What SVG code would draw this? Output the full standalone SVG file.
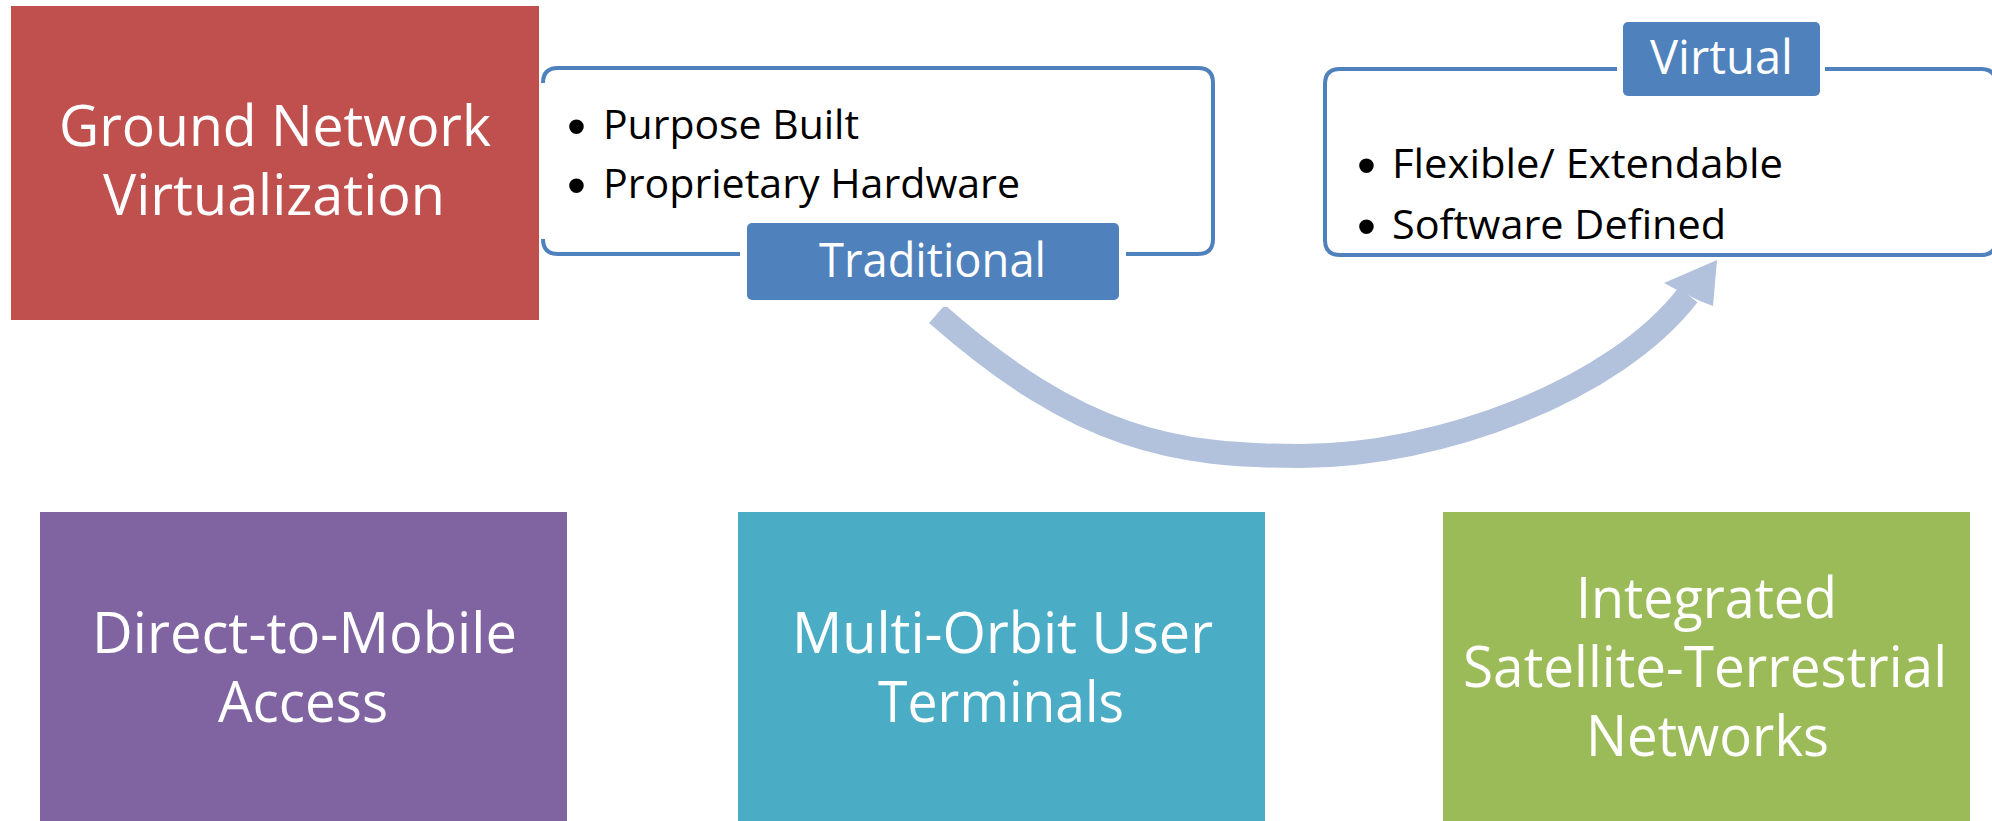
<svg xmlns="http://www.w3.org/2000/svg" width="1992" height="821" viewBox="0 0 1992 821">
  <style>
    .big { font-family: "Open Sans", "Liberation Sans", sans-serif; font-size: 56px; fill: #FFFFFF; }
    .label { font-family: "Open Sans", "Liberation Sans", sans-serif; font-size: 47px; fill: #FFFFFF; }
    .item { font-family: "Open Sans", "Liberation Sans", sans-serif; font-size: 40px; fill: #000000; }
    .bullet { font-family: "Liberation Sans", "DejaVu Sans", sans-serif; font-size: 54px; }
    .frame { fill: none; stroke: #4F81BD; stroke-width: 4; }
    .tag { fill: #4F81BD; }
    .gap { fill: #FFFFFF; }
  </style>
  <rect x="0" y="0" width="1992" height="821" fill="#FFFFFF"/>

  <g id="connectors">
    <path d="M937,314 C1080,440 1175,456 1300,456 C1440,456 1615,390 1688,295" fill="none" stroke="#B2C1DC" stroke-width="24" stroke-linecap="butt"/>
    <polygon points="1717,260 1664,283 1677,290 1700,301 1713,306" fill="#B2C1DC"/>
  </g>

  <g id="ground-network-virtualization">
    <rect x="11" y="6" width="528" height="314" fill="#C0504D"/>
    <text class="big" x="59" y="146" textLength="432" lengthAdjust="spacingAndGlyphs">Ground Network</text>
    <text class="big" x="103" y="215" textLength="342" lengthAdjust="spacingAndGlyphs">Virtualization</text>
  </g>

  <g id="traditional">
    <path class="frame" d="M543,83 Q543,68 558,68 H1198 Q1213,68 1213,83 V239 Q1213,254 1198,254 H558 Q543,254 543,239"/>
    <text class="item" x="567" y="145"><tspan class="bullet">•</tspan><tspan x="603" y="139" textLength="256" lengthAdjust="spacingAndGlyphs">Purpose Built</tspan></text>
    <text class="item" x="567" y="204"><tspan class="bullet">•</tspan><tspan x="603" y="198" textLength="417" lengthAdjust="spacingAndGlyphs">Proprietary Hardware</tspan></text>
    <rect class="gap" x="740" y="216" width="386" height="91"/>
    <rect class="tag" x="747" y="223" width="372" height="77" rx="5"/>
    <text class="label" x="819" y="277" textLength="227" lengthAdjust="spacingAndGlyphs">Traditional</text>
  </g>

  <g id="virtual">
    <path class="frame" d="M1996,84 V240 Q1996,255 1981,255 H1340 Q1325,255 1325,240 V84 Q1325,69 1340,69 H1981 Q1996,69 1996,84"/>
    <text class="item" x="1357" y="184"><tspan class="bullet">•</tspan><tspan x="1392" y="178" textLength="391" lengthAdjust="spacingAndGlyphs">Flexible/ Extendable</tspan></text>
    <text class="item" x="1357" y="245"><tspan class="bullet">•</tspan><tspan x="1392" y="239" textLength="334" lengthAdjust="spacingAndGlyphs">Software Defined</tspan></text>
    <rect class="gap" x="1617" y="15" width="208" height="88"/>
    <rect class="tag" x="1623" y="22" width="197" height="74" rx="5"/>
    <text class="label" x="1650" y="74" textLength="143" lengthAdjust="spacingAndGlyphs">Virtual</text>
  </g>

  <g id="direct-to-mobile">
    <rect x="40" y="512" width="527" height="309" fill="#8064A2"/>
    <text class="big" x="92" y="653" textLength="425" lengthAdjust="spacingAndGlyphs">Direct-to-Mobile</text>
    <text class="big" x="218" y="722" textLength="170" lengthAdjust="spacingAndGlyphs">Access</text>
  </g>

  <g id="multi-orbit">
    <rect x="738" y="512" width="527" height="309" fill="#4BACC6"/>
    <text class="big" x="792" y="653" textLength="421" lengthAdjust="spacingAndGlyphs">Multi-Orbit User</text>
    <text class="big" x="878" y="722" textLength="246" lengthAdjust="spacingAndGlyphs">Terminals</text>
  </g>

  <g id="integrated">
    <rect x="1443" y="512" width="527" height="309" fill="#9BBB59"/>
    <text class="big" x="1576" y="618" textLength="261" lengthAdjust="spacingAndGlyphs">Integrated</text>
    <text class="big" x="1463" y="687" textLength="484" lengthAdjust="spacingAndGlyphs">Satellite-Terrestrial</text>
    <text class="big" x="1586" y="756" textLength="243" lengthAdjust="spacingAndGlyphs">Networks</text>
  </g>
</svg>
